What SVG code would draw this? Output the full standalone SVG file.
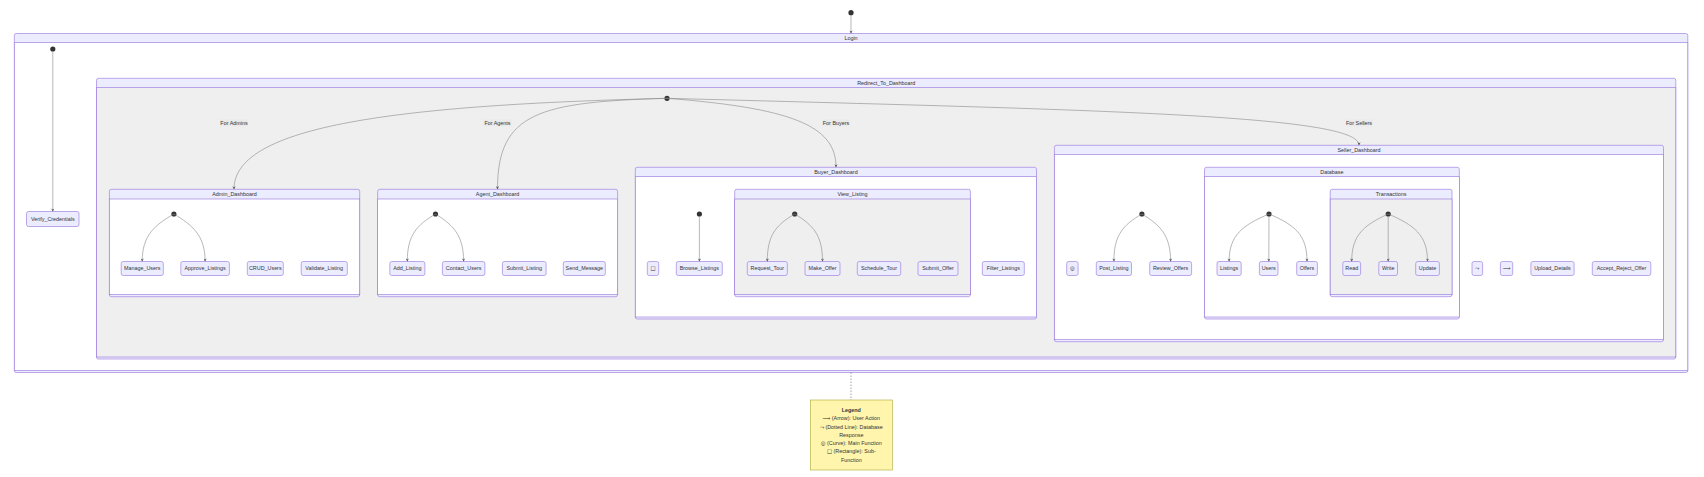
<svg xmlns="http://www.w3.org/2000/svg" width="1704" height="477" viewBox="0 0 1704 477">
<style>
text{font-family:"Liberation Sans",Arial,sans-serif;font-size:5.4px;fill:#333;text-anchor:middle}
.sym{font-family:"DejaVu Sans","Noto Sans",sans-serif}
.co{fill:#ECECFF;stroke:#9370DB;stroke-width:0.6}
.cw{fill:#ffffff;stroke:#9370DB;stroke-width:0.6}
.cg{fill:#efefef;stroke:#9370DB;stroke-width:0.6}
.n{fill:#ECECFF;stroke:#9370DB;stroke-width:0.6}
.st{fill:#333}
.e{fill:none;stroke:#888;stroke-width:0.6;marker-end:url(#arr)}
.lb{fill:#e8e8e8;opacity:0.8}
.note{fill:#fff5ad;stroke:#aaaa33;stroke-width:0.6}
</style>
<defs>
<marker id="arr" viewBox="0 0 10 10" refX="9" refY="5" markerWidth="3.2" markerHeight="3.2" markerUnits="userSpaceOnUse" orient="auto">
<path d="M0,0 L10,5 L0,10 L3,5 z" fill="#555"/>
</marker>
</defs>
<rect width="1704" height="477" fill="#ffffff"/>

<g id="start"><circle class="st" cx="851" cy="12.7" r="2.6"/></g>

<g id="Login">
<rect class="co" x="14.3" y="33.5" width="1673.5" height="339" rx="2"/>
<rect class="cw" x="14.3" y="42.7" width="1673.5" height="327.8"/>
<text x="851" y="40">Login</text>
<circle class="st" cx="52.8" cy="49" r="2.6"/>
</g>

<g id="Verify_Credentials">
<rect class="n" x="26.5" y="211.5" width="52.5" height="15" rx="2"/>
<text x="52.8" y="220.9">Verify_Credentials</text>
</g>

<g id="Redirect_To_Dashboard">
<rect class="co" x="96.5" y="78.3" width="1579.3" height="280.7" rx="2"/>
<rect class="cg" x="96.5" y="87.7" width="1579.3" height="269.3"/>
<text x="886.2" y="84.9">Redirect_To_Dashboard</text>
<circle class="st" cx="667" cy="98.3" r="2.6"/>
</g>

<g id="Admin_Dashboard">
<rect class="co" x="109.4" y="189.3" width="250.3" height="107.4" rx="2"/>
<rect class="cw" x="109.4" y="199" width="250.3" height="95.7"/>
<text x="234.5" y="196.1">Admin_Dashboard</text>
<circle class="st" cx="173.9" cy="214" r="2.6"/>
</g>
<g id="Manage_Users"><rect class="n" x="121.2" y="261.5" width="42.1" height="14" rx="2"/><text x="142.2" y="270.3">Manage_Users</text></g>
<g id="Approve_Listings"><rect class="n" x="180.8" y="261.5" width="48.6" height="14" rx="2"/><text x="205.1" y="270.3">Approve_Listings</text></g>
<g id="CRUD_Users"><rect class="n" x="247.3" y="261.5" width="36" height="14" rx="2"/><text x="265.3" y="270.3">CRUD_Users</text></g>
<g id="Validate_Listing"><rect class="n" x="301.2" y="261.5" width="46.1" height="14" rx="2"/><text x="324.2" y="270.3">Validate_Listing</text></g>

<g id="Agent_Dashboard">
<rect class="co" x="377.7" y="189.3" width="239.9" height="107.4" rx="2"/>
<rect class="cw" x="377.7" y="199" width="239.9" height="95.7"/>
<text x="497.6" y="196.1">Agent_Dashboard</text>
<circle class="st" cx="435.5" cy="214" r="2.6"/>
</g>
<g id="Add_Listing"><rect class="n" x="389.8" y="261.5" width="35.1" height="14" rx="2"/><text x="407.3" y="270.3">Add_Listing</text></g>
<g id="Contact_Users"><rect class="n" x="442.4" y="261.5" width="42.5" height="14" rx="2"/><text x="463.6" y="270.3">Contact_Users</text></g>
<g id="Submit_Listing"><rect class="n" x="502.4" y="261.5" width="43.7" height="14" rx="2"/><text x="524.2" y="270.3">Submit_Listing</text></g>
<g id="Send_Message"><rect class="n" x="563.3" y="261.5" width="42" height="14" rx="2"/><text x="584.3" y="270.3">Send_Message</text></g>

<g id="Buyer_Dashboard">
<rect class="co" x="635.3" y="167.3" width="401.2" height="151.7" rx="2"/>
<rect class="cw" x="635.3" y="176.7" width="401.2" height="140.3"/>
<text x="835.9" y="173.9">Buyer_Dashboard</text>
<circle class="st" cx="699.4" cy="214" r="2.6"/>
</g>
<g id="Rectangle"><rect class="n" x="647.3" y="261.5" width="11.4" height="14" rx="2"/><text class="sym" x="653" y="270.3">□</text></g>
<g id="Browse_Listings"><rect class="n" x="676.3" y="261.5" width="46" height="14" rx="2"/><text x="699.3" y="270.3">Browse_Listings</text></g>
<g id="Filter_Listings"><rect class="n" x="982.3" y="261.5" width="42" height="14" rx="2"/><text x="1003.3" y="270.3">Filter_Listings</text></g>

<g id="View_Listing">
<rect class="co" x="734.7" y="189.3" width="235.7" height="107.4" rx="2"/>
<rect class="cg" x="734.7" y="199" width="235.7" height="95.7"/>
<text x="852.5" y="196.1">View_Listing</text>
<circle class="st" cx="794.7" cy="214" r="2.6"/>
</g>
<g id="Request_Tour"><rect class="n" x="747.3" y="261.5" width="40" height="14" rx="2"/><text x="767.3" y="270.3">Request_Tour</text></g>
<g id="Make_Offer"><rect class="n" x="805" y="261.5" width="35" height="14" rx="2"/><text x="822.5" y="270.3">Make_Offer</text></g>
<g id="Schedule_Tour"><rect class="n" x="857.3" y="261.5" width="43.4" height="14" rx="2"/><text x="879" y="270.3">Schedule_Tour</text></g>
<g id="Submit_Offer"><rect class="n" x="918" y="261.5" width="40" height="14" rx="2"/><text x="938" y="270.3">Submit_Offer</text></g>

<g id="Seller_Dashboard">
<rect class="co" x="1054.4" y="145.3" width="609.1" height="196.4" rx="2"/>
<rect class="cw" x="1054.4" y="154.3" width="609.1" height="185.4"/>
<text x="1359" y="151.7">Seller_Dashboard</text>
<circle class="st" cx="1141.9" cy="214" r="2.6"/>
</g>
<g id="Curve"><rect class="n" x="1066.7" y="261.5" width="11.4" height="14" rx="2"/><text class="sym" x="1072.4" y="270.3">◎</text></g>
<g id="Post_Listing"><rect class="n" x="1096.3" y="261.5" width="35.2" height="14" rx="2"/><text x="1113.9" y="270.3">Post_Listing</text></g>
<g id="Review_Offers"><rect class="n" x="1149.7" y="261.5" width="41.9" height="14" rx="2"/><text x="1170.6" y="270.3">Review_Offers</text></g>
<g id="DottedLine"><rect class="n" x="1472" y="261.5" width="10.6" height="14" rx="2"/><text class="sym" x="1477.3" y="270.3">⤳</text></g>
<g id="Arrow"><rect class="n" x="1500.4" y="261.5" width="12.3" height="14" rx="2"/><text class="sym" x="1506.5" y="270.3">⟶</text></g>
<g id="Upload_Details"><rect class="n" x="1530.9" y="261.5" width="43.2" height="14" rx="2"/><text x="1552.5" y="270.3">Upload_Details</text></g>
<g id="Accept_Reject_Offer"><rect class="n" x="1592.3" y="261.5" width="58.5" height="14" rx="2"/><text x="1621.5" y="270.3">Accept_Reject_Offer</text></g>

<g id="Database">
<rect class="co" x="1204.5" y="167.3" width="254.8" height="151.7" rx="2"/>
<rect class="cw" x="1204.5" y="176.7" width="254.8" height="140.3"/>
<text x="1331.9" y="173.9">Database</text>
<circle class="st" cx="1269" cy="214" r="2.6"/>
</g>
<g id="Listings"><rect class="n" x="1217" y="261.5" width="24.2" height="14" rx="2"/><text x="1229.1" y="270.3">Listings</text></g>
<g id="Users"><rect class="n" x="1259.4" y="261.5" width="18.6" height="14" rx="2"/><text x="1268.7" y="270.3">Users</text></g>
<g id="Offers"><rect class="n" x="1296.7" y="261.5" width="20.7" height="14" rx="2"/><text x="1307" y="270.3">Offers</text></g>

<g id="Transactions">
<rect class="co" x="1330.2" y="189.3" width="121.8" height="107.4" rx="2"/>
<rect class="cg" x="1330.2" y="199" width="121.8" height="95.7"/>
<text x="1391.1" y="196.1">Transactions</text>
<circle class="st" cx="1388.2" cy="214" r="2.6"/>
</g>
<g id="Read"><rect class="n" x="1342.8" y="261.5" width="17.8" height="14" rx="2"/><text x="1351.7" y="270.3">Read</text></g>
<g id="Write"><rect class="n" x="1378.8" y="261.5" width="18.7" height="14" rx="2"/><text x="1388.2" y="270.3">Write</text></g>
<g id="Update"><rect class="n" x="1415.7" y="261.5" width="23.7" height="14" rx="2"/><text x="1427.5" y="270.3">Update</text></g>

<g id="Legend">
<rect class="note" x="810.3" y="400" width="82" height="70"/>
<text x="851.3" y="411.9" style="font-weight:bold">Legend</text>
<text x="851.3" y="420.2"><tspan class="sym">⟶</tspan> (Arrow): User Action</text>
<text x="851.3" y="428.5"><tspan class="sym">⤳</tspan> (Dotted Line): Database</text>
<text x="851.3" y="436.8">Response</text>
<text x="851.3" y="445.1"><tspan class="sym">◎</tspan> (Curve): Main Function</text>
<text x="851.3" y="453.4"><tspan class="sym">□</tspan> (Rectangle): Sub-</text>
<text x="851.3" y="461.7">Function</text>
</g>

<g id="connectors">
<path class="e" d="M851,15 L851,33.3"/>
<path class="e" d="M52.8,51 L52.8,211.3"/>
<path class="e" d="M667,98.3 C400,105 234,125 234,189.1"/>
<path class="e" d="M667,98.3 C540,102 497.5,112 497.5,189.1"/>
<path class="e" d="M667,98.3 C790,108 836,125 836,167.1"/>
<path class="e" d="M667,98.3 C1100,110 1359,115 1359,145.1"/>
<path class="e" d="M173.9,214 C155,225 142.2,235 142.2,261.3"/>
<path class="e" d="M173.9,214 C192,225 205.1,235 205.1,261.3"/>
<path class="e" d="M435.5,214 C417,225 407.3,235 407.3,261.3"/>
<path class="e" d="M435.5,214 C453,225 463.6,235 463.6,261.3"/>
<path class="e" d="M699.4,216 L699.4,261.3"/>
<path class="e" d="M794.7,214 C776,225 767.3,235 767.3,261.3"/>
<path class="e" d="M794.7,214 C813,225 822.5,235 822.5,261.3"/>
<path class="e" d="M1141.9,214 C1123,225 1113.9,235 1113.9,261.3"/>
<path class="e" d="M1141.9,214 C1160,225 1170.6,235 1170.6,261.3"/>
<path class="e" d="M1269,214 C1243,225 1229.1,235 1229.1,261.3"/>
<path class="e" d="M1269,216 L1268.8,261.3"/>
<path class="e" d="M1269,214 C1295,225 1307,235 1307,261.3"/>
<path class="e" d="M1388.2,214 C1364,225 1351.7,235 1351.7,261.3"/>
<path class="e" d="M1388.2,216 L1388.2,261.3"/>
<path class="e" d="M1388.2,214 C1414,225 1427.5,235 1427.5,261.3"/>
<path d="M851,372.5 L851,400" fill="none" stroke="#666" stroke-width="0.6" stroke-dasharray="1.5,1.5"/>
<rect class="lb" x="220" y="119.5" width="28" height="7"/>
<text x="234" y="124.9">For Admins</text>
<rect class="lb" x="483.5" y="119.5" width="28" height="7"/>
<text x="497.5" y="124.9">For Agents</text>
<rect class="lb" x="822.5" y="119.5" width="27" height="7"/>
<text x="836" y="124.9">For Buyers</text>
<rect class="lb" x="1345.5" y="119.5" width="27" height="7"/>
<text x="1359" y="124.9">For Sellers</text>
</g>
</svg>
